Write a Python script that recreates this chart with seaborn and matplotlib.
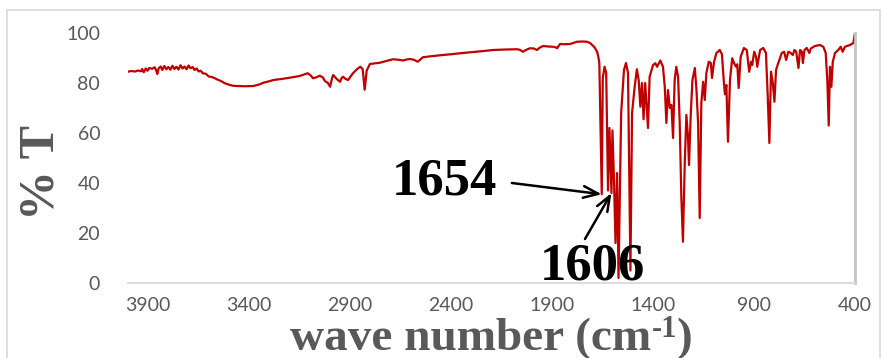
import matplotlib
matplotlib.use("Agg")
import matplotlib.pyplot as plt
from matplotlib.patches import Rectangle
import pandas as pd
import seaborn as sns

# FT-IR spectrum: wavenumber (cm-1) and transmittance (%)
wavenumber = [
    4000, 3985, 3965, 3950, 3935, 3930, 3922, 3912, 3903, 3895, 3880, 3868, 3860, 3855,
    3848, 3838, 3830, 3820, 3810, 3800, 3790, 3780, 3770, 3760, 3750, 3740, 3730, 3720,
    3710, 3700, 3690, 3680, 3670, 3660, 3650, 3640, 3630, 3615, 3600, 3585, 3570, 3555,
    3540, 3520, 3500, 3480, 3460, 3420, 3380, 3350, 3330, 3300, 3280, 3240, 3200, 3150,
    3120, 3110, 3095, 3084, 3070, 3050, 3035, 3025, 3010, 2999, 2990, 2984, 2965, 2950,
    2942, 2935, 2922, 2910, 2898, 2886, 2865, 2850, 2838, 2828, 2818, 2802, 2753, 2720,
    2688, 2660, 2639, 2620, 2604, 2585, 2565, 2550, 2540, 2500, 2441, 2400, 2356, 2300,
    2250, 2193, 2130, 2074, 2060, 2044, 2025, 2009, 1990, 1975, 1960, 1944, 1920, 1895,
    1880, 1875, 1868, 1860, 1840, 1811, 1795, 1777, 1750, 1727, 1712, 1702, 1690, 1677,
    1671, 1666, 1654, 1649, 1640, 1632, 1623, 1616, 1606, 1601, 1593, 1586, 1578, 1571,
    1558, 1544, 1534, 1524, 1512, 1504, 1491, 1480, 1471, 1463, 1455, 1447, 1439, 1425,
    1417, 1400, 1389, 1380, 1364, 1351, 1342, 1334, 1326, 1317, 1309, 1301, 1293, 1285,
    1276, 1268, 1260, 1252, 1243, 1235, 1227, 1222, 1213, 1205, 1193, 1185, 1177, 1169,
    1161, 1152, 1144, 1136, 1124, 1114, 1108, 1098, 1086, 1070, 1059, 1049, 1044, 1037,
    1029, 1019, 1008, 999, 989, 983, 976, 966, 950, 936, 924, 915, 909, 899,
    890, 884, 870, 854, 841, 832, 824, 816, 807, 799, 791, 780, 771, 763,
    751, 741, 730, 718, 708, 700, 691, 680, 672, 663, 658, 650, 639, 626,
    619, 598, 573, 557, 545, 537, 530, 524, 517, 510, 499, 483, 471, 461,
    450, 425, 408, 400,
]
transmittance = [
    84.5, 84.8, 84.6, 85.0, 84.7, 85.6, 84.3, 85.8, 84.9, 86.0, 85.7, 86.3, 85.0, 83.6,
    85.9, 86.6, 85.2, 86.8, 85.5, 86.4, 85.3, 86.9, 85.6, 86.5, 85.4, 87.1, 85.8, 86.6,
    85.5, 87.0, 85.9, 86.4, 85.2, 85.8, 84.6, 84.9, 83.9, 83.7, 82.6, 82.4, 81.9, 81.3,
    80.8, 79.9, 79.3, 78.9, 78.8, 78.7, 78.8, 79.4, 80.1, 80.7, 81.2, 81.6, 82.1, 82.8,
    83.6, 83.9, 83.0, 81.9, 82.2, 82.9, 82.2, 80.8, 80.0, 78.5, 81.8, 83.2, 81.5, 80.5,
    82.0, 82.5, 81.6, 81.2, 82.6, 83.9, 85.6, 86.5, 85.6, 77.3, 85.0, 87.6, 88.1, 88.8,
    89.5, 89.3, 89.0, 89.4, 89.6, 89.3, 88.5, 89.6, 90.3, 90.7, 91.2, 91.5, 91.9, 92.3,
    92.7, 93.2, 93.4, 93.5, 93.3, 92.5, 93.4, 93.9, 93.8, 93.2, 94.2, 94.8, 94.6, 94.5,
    94.2, 93.9, 94.8, 95.6, 95.5, 95.6, 96.0, 96.5, 96.6, 96.5, 96.0, 95.2, 94.3, 92.5,
    90.5, 88.0, 35.5, 82.0, 86.5, 84.0, 37.0, 62.0, 36.0, 61.0, 40.0, 16.0, 44.0, 2.0,
    68.0, 85.2, 88.0, 84.0, 5.0, 68.0, 78.5, 85.5, 81.0, 70.5, 80.0, 65.5, 80.0, 62.0,
    82.5, 87.2, 87.9, 86.5, 89.0, 86.5, 78.5, 64.0, 77.2, 70.0, 71.2, 58.0, 81.2, 86.5,
    82.5, 64.0, 34.5, 16.5, 48.0, 67.2, 58.5, 47.2, 68.0, 81.2, 86.0, 77.2, 64.0, 26.0,
    72.0, 80.5, 73.2, 84.0, 88.5, 88.0, 82.0, 88.5, 92.0, 93.2, 91.5, 80.0, 75.5, 79.2,
    56.5, 81.2, 89.9, 88.0, 86.5, 87.5, 78.0, 90.5, 94.0, 93.2, 84.5, 88.5, 87.2, 92.5,
    90.5, 86.5, 93.2, 94.0, 92.0, 74.5, 56.0, 84.5, 80.0, 72.5, 85.2, 88.0, 90.0, 92.0,
    92.5, 89.2, 92.5, 92.0, 91.2, 93.2, 92.5, 86.0, 93.2, 92.5, 88.0, 93.2, 94.0, 92.0,
    93.8, 94.8, 95.2, 94.5, 92.0, 81.0, 63.0, 86.5, 78.5, 88.5, 92.0, 93.2, 94.5, 92.5,
    94.5, 95.2, 96.0, 100.0,
]

x_ticks = [3900, 3400, 2900, 2400, 1900, 1400, 900, 400]
y_ticks = [0, 20, 40, 60, 80, 100]

# labelled bands: (label, wavenumber, %T)
band_1654 = ("1654", 1654, 35.5)
band_1606 = ("1606", 1606, 36.0)

sns.set_theme(style="white")

W, H = 882, 358
fig = plt.figure(figsize=(W / 100, H / 100), dpi=100)
fig.patch.set_facecolor("white")
ax = fig.add_axes([128 / W, (H - 283) / H, (855 - 128) / W, (283 - 33) / H])

df = pd.DataFrame({"wn": wavenumber, "T": transmittance})
sns.lineplot(data=df, x="wn", y="T", ax=ax, color="#C00000", linewidth=1.6,
             estimator=None, sort=False, zorder=2)

ax.set_xlim(4000, 400)
ax.set_ylim(0, 100)
ax.set_xticks(x_ticks)
ax.set_yticks(y_ticks)
ax.set_xticklabels([str(v) for v in x_ticks])
ax.set_yticklabels([str(v) for v in y_ticks])
ax.tick_params(axis="both", length=0, labelsize=14, labelcolor="#595959")
ax.tick_params(axis="x", pad=10)
ax.tick_params(axis="y", pad=20)
for lab in ax.get_xticklabels() + ax.get_yticklabels():
    lab.set_fontfamily("Lato")
ax.set_xlabel("")
ax.set_ylabel("")

for side in ("top", "left"):
    ax.spines[side].set_visible(False)
ax.spines["bottom"].set_color("#D9D9D9")
ax.spines["bottom"].set_linewidth(1.3)
ax.spines["right"].set_color("#C4C4C4")
ax.spines["right"].set_linewidth(2)

# x-axis title built from pieces so the exponent keeps a plain hyphen
title_style = dict(fontweight="bold", family="Liberation Serif", color="#595959")
parts = [("wave number (cm", 34, 0), ("-1", 22, 13), (")", 34, 0)]
renderer = fig.canvas.get_renderer()
widths = []
for txt, size, _ in parts:
    probe = fig.text(0, 0, txt, fontsize=size, **title_style)
    widths.append(probe.get_window_extent(renderer).width)
    probe.remove()
x_px = 491.5 - sum(widths) / 2
base_px = 350
for (txt, size, rise), wpx in zip(parts, widths):
    fig.text(x_px / W, (H - base_px + rise) / H, txt, ha="left", va="baseline",
             fontsize=size, **title_style)
    x_px += wpx

fig.text(42 / W, (H - 172) / H, "% T", ha="center", va="center", rotation=90,
         fontsize=36, **title_style)

# band annotations
ax.annotate("", xy=band_1654[1:], xytext=(2099, 40.0),
            arrowprops=dict(arrowstyle="->,head_length=0.9,head_width=0.35",
                            color="black", lw=1.8, shrinkA=0, shrinkB=0), zorder=4)
ax.annotate("", xy=band_1606[1:], xytext=(1737, 17.6),
            arrowprops=dict(arrowstyle="->,head_length=0.9,head_width=0.35",
                            color="black", lw=1.8, shrinkA=0, shrinkB=0), zorder=4)
ax.text(2435, 40.6, band_1654[0], ha="center", va="center", fontsize=38,
        fontweight="bold", family="Liberation Serif", color="black", zorder=5, clip_on=False)
ax.text(1700, 6.6, band_1606[0], ha="center", va="center", fontsize=38,
        fontweight="bold", family="Liberation Serif", color="black", zorder=5, clip_on=False)

# chart frame
fig.add_artist(Rectangle((7 / W, -0.1), (880 - 7) / W, (H - 10) / H + 0.1,
                         transform=fig.transFigure, fill=False,
                         edgecolor="#D9D9D9", linewidth=1.2))

fig.savefig("out.png", dpi=100, facecolor="white")
